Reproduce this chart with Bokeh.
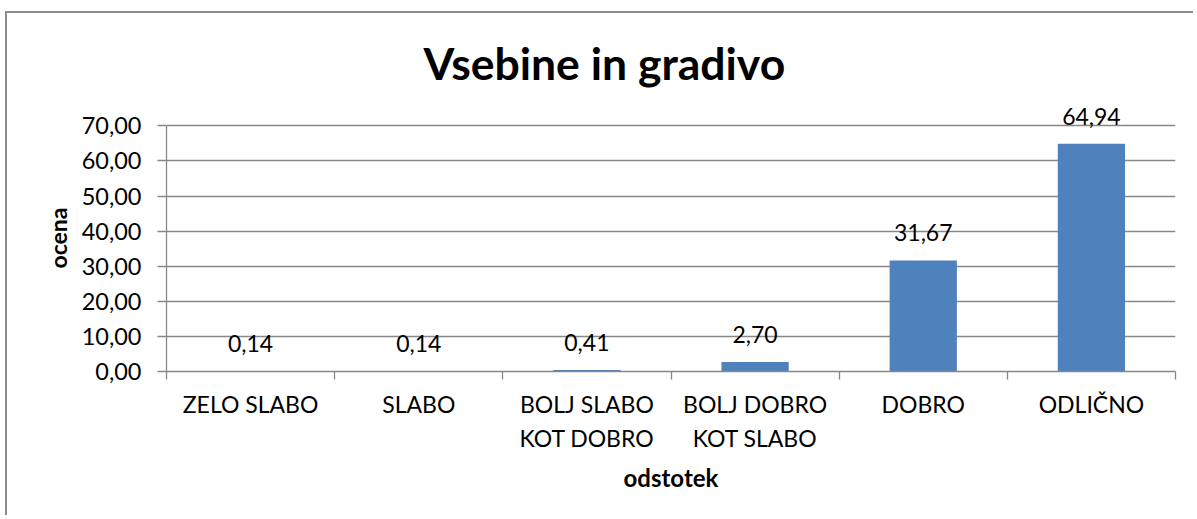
import numpy as np
from bokeh.plotting import figure
from bokeh.models import (ColumnDataSource, FixedTicker, CustomJSTickFormatter, Range1d,
                          LabelSet, Title)
from bokeh.core.properties import value
from bokeh.embed import file_html
from bokeh.resources import INLINE

# ---- data ----
categories = ["ZELO SLABO", "SLABO", "BOLJ SLABO KOT DOBRO", "BOLJ DOBRO KOT SLABO", "DOBRO", "ODLIČNO"]
category_labels = ["ZELO SLABO", "SLABO", "BOLJ SLABO\nKOT DOBRO", "BOLJ DOBRO\nKOT SLABO", "DOBRO", "ODLIČNO"]
values = [0.14, 0.14, 0.41, 2.70, 31.67, 64.94]
y_ticks = [0, 10, 20, 30, 40, 50, 60, 70]
title_text = "Vsebine in gradivo"
x_title = "odstotek"
y_title = "ocena"

FONT = "Lato"
GRID = "#878787"
BAR = "#4F81BD"

n = len(categories)
centers = list(np.arange(n) + 0.5)
bounds = list(np.arange(n + 1).astype(float))
labels = [f"{v:.2f}".replace(".", ",") for v in values]

src = ColumnDataSource(dict(x=centers, top=values, label=labels, cat=categories))

p = figure(width=1188, height=504, output_backend="svg", toolbar_location=None,
           x_range=Range1d(0, n), y_range=Range1d(0, 76.1),
           min_border_left=159, min_border_right=20, min_border_top=91, min_border_bottom=146)
p.styles = {"margin-left": "5px", "margin-top": "11px",
            "border-left": "2px solid #8C8C8C", "border-top": "2px solid #8C8C8C"}
p.outline_line_color = None
p.background_fill_color = "white"
p.border_fill_color = "white"

p.vbar(x="x", top="top", width=0.4, bottom=0, source=src, fill_color=BAR, line_color=None)
p.add_layout(LabelSet(x="x", y="top", text="label", source=src, text_align="center",
                      text_baseline="alphabetic", y_offset=19, text_font=value(FONT),
                      text_font_size=value("23px"), text_color="black"))

# title
p.title = Title(text=title_text, align="left", offset=257, standoff=32,
                text_font=FONT, text_font_size="44.5px", text_font_style="bold", text_color="black")

# y axis
yax = p.yaxis[0]
yax.bounds = (0, 70)
yax.ticker = FixedTicker(ticks=y_ticks)
yax.formatter = CustomJSTickFormatter(code="return tick.toFixed(2).replace('.', ',');")
yax.axis_line_color = GRID
yax.axis_line_width = 1.3
yax.major_tick_line_color = GRID
yax.major_tick_line_width = 1.3
yax.major_tick_out = 9
yax.major_tick_in = 0
yax.minor_tick_line_color = None
yax.major_label_standoff = 16
yax.major_label_text_font = FONT
yax.major_label_text_font_size = "23.5px"
yax.major_label_text_color = "black"
yax.axis_label = y_title
yax.axis_label_text_font = FONT
yax.axis_label_text_font_size = "23px"
yax.axis_label_text_font_style = "bold"
yax.axis_label_text_color = "black"
yax.axis_label_standoff = 7

# x axis
xax = p.xaxis[0]
xax.ticker = FixedTicker(ticks=centers, minor_ticks=bounds)
xax.major_label_overrides = {c: lab for c, lab in zip(centers, category_labels)}
xax.axis_line_color = GRID
xax.axis_line_width = 1.3
xax.major_tick_line_color = None
xax.minor_tick_line_color = GRID
xax.minor_tick_line_width = 1.3
xax.minor_tick_out = 8
xax.minor_tick_in = 0
xax.major_tick_out = 0
xax.major_tick_in = 0
xax.major_label_standoff = 10
xax.major_label_text_font = FONT
xax.major_label_text_font_size = "23px"
xax.major_label_text_line_height = 1.22
xax.major_label_text_color = "black"
xax.axis_label = x_title
xax.axis_label_text_font = FONT
xax.axis_label_text_font_size = "24px"
xax.axis_label_text_font_style = "bold"
xax.axis_label_text_color = "black"
xax.axis_label_standoff = 8

p.xgrid.grid_line_color = None
p.ygrid.grid_line_color = GRID
p.ygrid.grid_line_width = 1.3
p.ygrid.ticker = FixedTicker(ticks=y_ticks)

open("out.html", "w").write(file_html(p, INLINE))
